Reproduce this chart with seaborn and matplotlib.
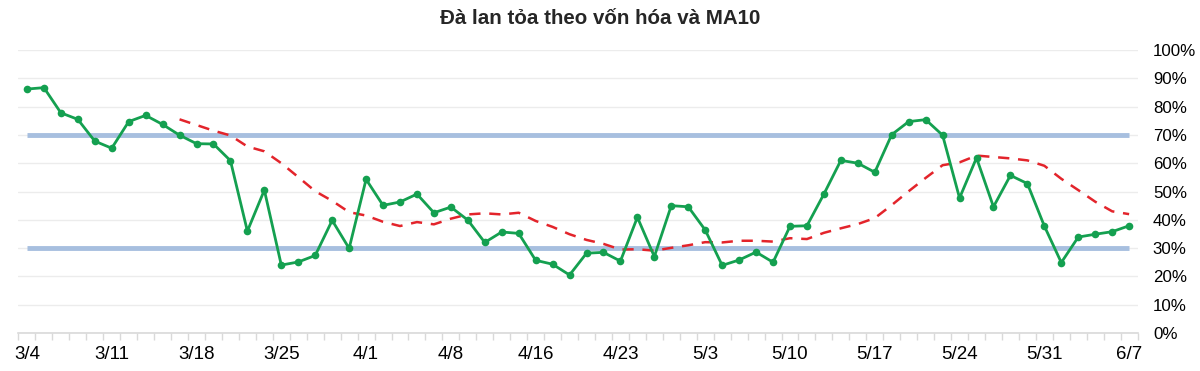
import pandas as pd
import numpy as np
import matplotlib
matplotlib.use("Agg")
import matplotlib.pyplot as plt
import seaborn as sns
from matplotlib.ticker import FixedLocator, FuncFormatter

# Ngày giao dịch (bỏ cuối tuần và ngày nghỉ lễ)
dates = pd.bdate_range("2019-03-04", "2019-06-07", freq="C",
                       holidays=["2019-04-15", "2019-04-29", "2019-04-30", "2019-05-01"])

# Đà lan tỏa theo vốn hóa (%)
breadth = [86.2, 86.7, 77.8, 75.5, 67.8, 65.3, 74.7, 76.9, 73.7, 69.9,
           66.9, 66.8, 60.9, 36.0, 50.5, 24.0, 25.1, 27.4, 39.8, 29.9,
           54.3, 45.1, 46.3, 49.1, 42.5, 44.5, 39.9, 32.0, 35.7, 35.2,
           25.7, 24.3, 20.5, 28.2, 28.5, 25.4, 40.9, 27.0, 45.0, 44.6,
           36.4, 23.9, 25.8, 28.6, 25.0, 37.7, 37.9, 49.1, 61.0, 60.0,
           56.8, 70.1, 74.7, 75.4, 69.9, 47.7, 61.9, 44.6, 55.7, 52.8,
           37.8, 24.9, 33.9, 34.9, 35.8, 37.9]

# MA10 (bắt đầu từ phiên thứ 10)
ma10 = [None] * 9 + [
    75.5, 73.5, 71.5, 69.8, 65.9, 64.2, 60.0, 55.1, 50.1, 46.7,
    42.7, 41.5, 39.3, 37.8, 39.2, 38.4, 40.4, 41.9, 42.3, 41.9,
    42.5, 39.6, 37.5, 34.9, 32.9, 31.5, 29.5, 29.6, 29.1, 30.1,
    31.0, 32.1, 32.0, 32.6, 32.6, 32.3, 33.5, 33.2, 35.4, 37.0,
    38.5, 40.6, 45.2, 50.1, 54.8, 59.3, 60.3, 62.7, 62.2, 61.7,
    61.0, 59.1, 54.5, 50.5, 46.4, 43.0, 42.0]

bands = [30, 70]

df = pd.DataFrame({
    "idx": np.arange(len(dates)),
    "label": [f"{d.month}/{d.day}" for d in dates],
    "breadth": breadth,
    "ma10": pd.to_numeric(pd.Series(ma10), errors="coerce"),
})

sns.set_theme(style="white")
plt.rcParams["font.family"] = ["Liberation Sans", "DejaVu Sans"]

fig = plt.figure(figsize=(12, 3.71), dpi=100)
ax = fig.add_axes([0.0154, 0.1024, 0.9326, 0.7628])

n = len(df)
# vùng 30% / 70%
for b in bands:
    ax.plot([0, n - 1], [b, b], color="#a7bfdf", lw=3.5, zorder=1, solid_capstyle="butt")

sns.lineplot(data=df, x="idx", y="breadth", ax=ax, color="#14a050", lw=2,
             marker="o", markersize=5.5, markeredgewidth=0, zorder=3)
sns.lineplot(data=df.dropna(subset=["ma10"]), x="idx", y="ma10", ax=ax,
             color="#e3242b", lw=1.8, zorder=2)
ax.lines[-1].set_dashes([4.5, 3.5])

ax.set_xlim(-0.5, n - 0.5)
ax.set_ylim(0, 100)
ax.set_xlabel("")
ax.set_ylabel("")

ax.yaxis.tick_right()
ax.set_yticks(np.arange(0, 101, 10))
ax.yaxis.set_major_formatter(FuncFormatter(lambda v, p: f"{int(v)}%"))
ax.tick_params(axis="y", length=0, labelsize=12.2, pad=11, colors="#000000")
ax.grid(axis="y", color="#ececec", lw=1)
ax.set_axisbelow(True)

major = list(range(0, n, 5))
ax.set_xticks(major)
ax.set_xticklabels(df["label"].iloc[major])
ax.xaxis.set_minor_locator(FixedLocator(np.arange(-0.5, n, 1)))
ax.tick_params(axis="x", which="major", length=0, labelsize=13.5, pad=9, colors="#000000")
ax.tick_params(axis="x", which="minor", length=5, width=1, color="#d9d9d9", bottom=True)

for s in ["top", "right", "left"]:
    ax.spines[s].set_visible(False)
ax.spines["bottom"].set_color("#d9d9d9")
ax.spines["bottom"].set_linewidth(1.2)

fig.suptitle("Đà lan tỏa theo vốn hóa và MA10", x=0.5, y=0.975,
             fontsize=14.8, fontweight="bold")

fig.savefig("out.png", dpi=100, facecolor="white")
